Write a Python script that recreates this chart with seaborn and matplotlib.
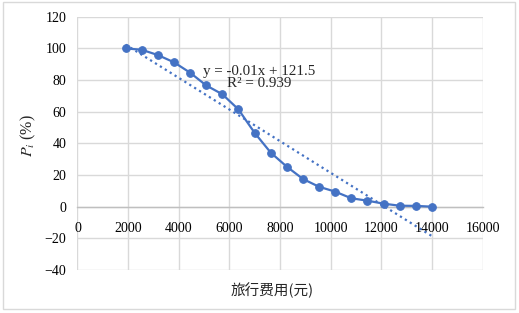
import pandas as pd
import seaborn as sns
import matplotlib.pyplot as plt
from matplotlib.patches import Rectangle

# travel cost (yuan) and P_i (%)
cost = [1900, 2540, 3170, 3810, 4440, 5080, 5720, 6350, 6990, 7630,
        8260, 8900, 9530, 10170, 10810, 11440, 12080, 12720, 13350, 14000]
p_i = [100, 99.1, 95.8, 91.2, 84.7, 76.6, 71.0, 61.5, 46.7, 34.1,
       25.3, 17.5, 12.6, 9.5, 5.3, 3.8, 1.9, 0.6, 0.5, 0.0]
x_ticks = [0, 2000, 4000, 6000, 8000, 10000, 12000, 14000, 16000]
y_ticks = [-40, -20, 0, 20, 40, 60, 80, 100, 120]
fit_label = "y = -0.01x + 121.5\nR² = 0.939"

BLUE = "#4472C4"
GRID = "#D9D9D9"

sns.set_style("white")
plt.rcParams['font.family'] = ['Liberation Serif', 'DejaVu Serif']
plt.rcParams['mathtext.fontset'] = 'stix'

df = pd.DataFrame({'cost': cost, 'p': p_i})

fig = plt.figure(figsize=(5.19, 3.13), dpi=100)
ax = fig.add_axes([0.1493, 0.1374, 0.7810, 0.8092])

sns.regplot(
    data=df, x='cost', y='p', ax=ax,
    scatter=False, ci=None, truncate=True,
    line_kws={'color': BLUE, 'linestyle': (0, (1, 1.6)), 'linewidth': 1.6, 'zorder': 2}
)
sns.lineplot(
    data=df, x='cost', y='p', ax=ax,
    color=BLUE, linewidth=1.6, marker='o', markersize=5.5,
    markeredgecolor=BLUE, zorder=3
)

ax.set_xlim(0, 16000)
ax.set_ylim(-40, 120)
ax.set_xticks(x_ticks)
ax.set_yticks(y_ticks)
ax.grid(True, color=GRID, linewidth=1.0)
ax.set_axisbelow(True)

for side in ['top', 'right', 'left']:
    ax.spines[side].set_visible(False)
ax.spines['bottom'].set_position(('data', 0))
ax.spines['bottom'].set_color('#BFBFBF')
ax.spines['bottom'].set_linewidth(1.0)

ax.tick_params(axis='both', length=0, labelsize=10, colors='#000000')
ax.tick_params(axis='y', pad=8)
ax.tick_params(axis='x', pad=11)

ax.set_xlabel("旅行费用(元)", fontsize=10.5,
              family=['Noto Sans CJK SC', 'DejaVu Sans'])
ax.xaxis.set_label_coords(0.48, -0.05)
ax.set_ylabel(r"$P_i$ (%)", fontsize=11.5)
ax.yaxis.set_label_coords(-0.097, 0.53)

ax.text(7180, 81.5, fit_label, fontsize=10.8, va='center', ha='center',
        multialignment='center', linespacing=0.9)

fig.patches.append(Rectangle((0.005, 0.012), 0.988, 0.982, transform=fig.transFigure,
                             fill=False, edgecolor=GRID, linewidth=1.0))

plt.savefig('out.png', dpi=100)
plt.close()
